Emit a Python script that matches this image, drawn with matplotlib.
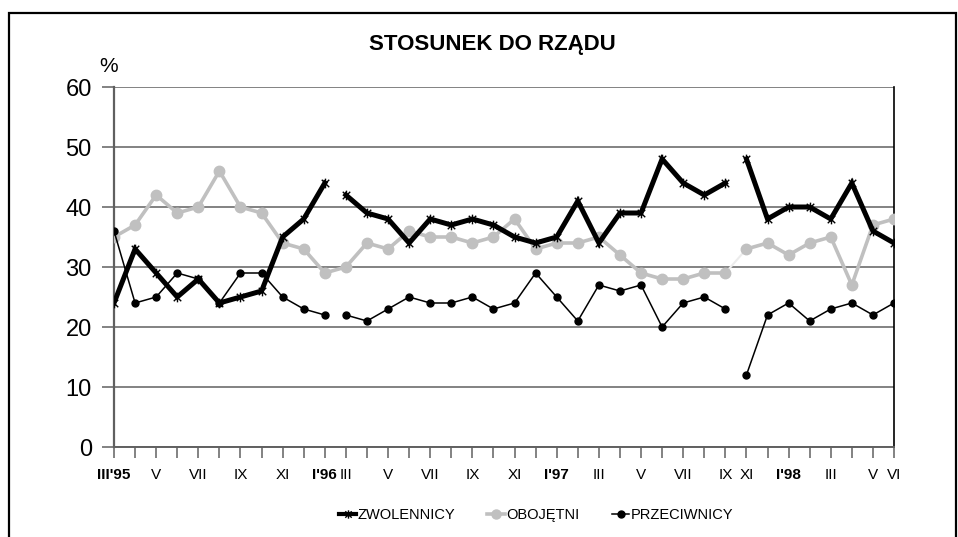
import numpy as np
import matplotlib
matplotlib.use("Agg")
import matplotlib.pyplot as plt
from matplotlib.path import Path
from matplotlib.lines import Line2D
from matplotlib.patches import Rectangle

plt.rcParams['font.family'] = ['Liberation Sans', 'DejaVu Sans']

# ---------------- data ----------------
title = "STOSUNEK DO RZĄDU"
month_labels = ["III'95", "", "V", "", "VII", "", "IX", "", "XI", "", "I'96",
                "III", "", "V", "", "VII", "", "IX", "", "XI", "", "I'97",
                "", "III", "", "V", "", "VII", "", "IX", "XI", "", "I'98",
                "", "III", "", "V", "VI"]
bold_labels = ["III'95", "I'96", "I'97", "I'98"]

zwolennicy = [24, 33, 29, 25, 28, 24, 25, 26, 35, 38, 44,
              42, 39, 38, 34, 38, 37, 38, 37, 35, 34, 35, 41, 34, 39, 39, 48, 44, 42, 44,
              48, 38, 40, 40, 38, 44, 36, 34]
obojetni = [35, 37, 42, 39, 40, 46, 40, 39, 34, 33, 29,
            30, 34, 33, 36, 35, 35, 34, 35, 38, 33, 34, 34, 35, 32, 29, 28, 28, 29, 29,
            33, 34, 32, 34, 35, 27, 37, 38]
przeciwnicy = [36, 24, 25, 29, 28, 24, 29, 29, 25, 23, 22,
               22, 21, 23, 25, 24, 24, 25, 23, 24, 29, 25, 21, 27, 26, 27, 20, 24, 25, 23,
               12, 22, 24, 21, 23, 24, 22, 24]
series_names = ["ZWOLENNICY", "OBOJĘTNI", "PRZECIWNICY"]
segment_starts = [0, 11, 30]   # line breaks in the series

# ---------------- figure ----------------
W, H = 958, 537
fig = plt.figure(figsize=(W / 100, H / 100), dpi=100)
ax = fig.add_axes([114 / W, 1 - 447 / H, (894 - 114) / W, 360 / H])

x = np.arange(len(zwolennicy))

star = Path([(-1, -1), (1, 1), (-1, 1), (1, -1), (0, -1.3), (0, 1.3)],
            [Path.MOVETO, Path.LINETO, Path.MOVETO, Path.LINETO, Path.MOVETO, Path.LINETO])

grey = '#c0c0c0'

def segments(vals):
    bounds = segment_starts + [len(vals)]
    for a, b in zip(bounds[:-1], bounds[1:]):
        yield x[a:b], np.array(vals[a:b])

# obojetni: continuous, faint piece at second break
ax.plot(x[:segment_starts[2]], obojetni[:segment_starts[2]], color=grey, lw=2.6,
        marker='o', ms=7.5, mfc=grey, mec=grey, zorder=3)
ax.plot(x[segment_starts[2] - 1:segment_starts[2] + 1],
        obojetni[segment_starts[2] - 1:segment_starts[2] + 1], color='#ececec', lw=1.5, zorder=2.5)
ax.plot(x[segment_starts[2]:], obojetni[segment_starts[2]:], color=grey, lw=2.6,
        marker='o', ms=7.5, mfc=grey, mec=grey, zorder=3)

for xs, ys in segments(przeciwnicy):
    ax.plot(xs, ys, color='black', lw=1.1, marker='o', ms=5, mfc='black', mec='black', zorder=4)

for xs, ys in segments(zwolennicy):
    ax.plot(xs, ys, color='black', lw=3.6, marker=star, ms=7, mew=1.0,
            mfc='black', mec='black', zorder=5, solid_joinstyle='miter')

# ---------------- axes styling ----------------
ax.set_xlim(0, len(x) - 1)
ax.set_ylim(0, 60)
ax.set_yticks(range(0, 61, 10))
ax.yaxis.grid(True, color='#606060', lw=1.1, zorder=1)
ax.set_axisbelow(True)
ax.tick_params(axis='y', direction='out', length=9, width=1.1, color='#606060',
               labelsize=17, pad=7)
ax.set_xticks(x)
ax.set_xticklabels(month_labels)
ax.tick_params(axis='x', direction='out', length=8, width=1.1, color='#606060',
               labelsize=11, pad=7)
for lab in ax.get_xticklabels():
    if lab.get_text() in bold_labels:
        lab.set_fontweight('bold')

ax.spines['top'].set_visible(False)
ax.spines['left'].set_color('#606060')
ax.spines['left'].set_linewidth(1.6)
ax.spines['bottom'].set_color('#606060')
ax.spines['bottom'].set_linewidth(1.4)
ax.spines['right'].set_color('black')
ax.spines['right'].set_linewidth(1.2)

fig.text(109 / W, 1 - 66 / H, "%", fontsize=15, ha='center', va='center')
fig.text(492 / W, 1 - 44.5 / H, title, fontsize=16, fontweight='bold', ha='center', va='center')

# frame
fig.add_artist(Rectangle((8.5 / W, -0.02), (956 - 8.5) / W, 1 - 12.5 / H + 0.02,
                         transform=fig.transFigure, fill=False, ec='black', lw=1.6))

# legend
handles = [
    Line2D([], [], color='black', lw=3.0, marker=star, ms=6, mew=1.0),
    Line2D([], [], color=grey, lw=2.6, marker='o', ms=6.5, mfc=grey, mec=grey),
    Line2D([], [], color='black', lw=1.1, marker='o', ms=5),
]
fig.legend(handles, series_names, loc='center', bbox_to_anchor=(536 / W, 1 - 515 / H),
           ncol=3, frameon=False, fontsize=10.5, handlelength=1.2, handletextpad=0.1,
           columnspacing=2.2, numpoints=1)

fig.savefig("out.png", dpi=100)
